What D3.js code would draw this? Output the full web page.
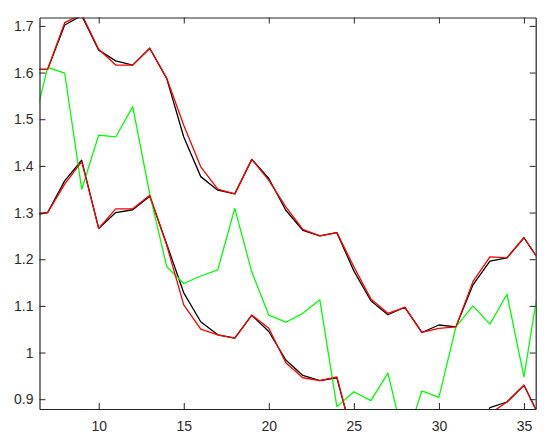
<!DOCTYPE html>
<html>
<head>
<meta charset="utf-8">
<script src="https://cdn.jsdelivr.net/npm/d3@7"></script>
<style>
  body { margin: 0; background: #fff; }
  .axis text { font-family: "Liberation Sans", Arial, sans-serif; font-size: 14px; fill: #2b2b2b; }
  .axis path, .axis line { stroke: #262626; }
</style>
</head>
<body>
<div id="chart"></div>
<script>
const margin = { top: 17.5, right: 14.3, bottom: 32, left: 39.5 };
const width = 550 - margin.left - margin.right;
const height = 441 - margin.top - margin.bottom;

// x positions of the samples
const xValues = [6, 7, 8, 9, 10, 11, 12, 13, 14, 15, 16, 17, 18, 19, 20,
    21, 22, 23, 24, 25, 26, 27, 28, 29, 30, 31, 32, 33, 34, 35, 36];

const upperBlack = [1.607, 1.607, 1.702, 1.722, 1.648, 1.625, 1.616, 1.652, 1.587, 1.462, 1.377,
    1.348, 1.340, 1.414, 1.373, 1.305, 1.262, 1.250, 1.257, 1.175, 1.111,
    1.081, 1.097, 1.043, 1.059, 1.055, 1.145, 1.196, 1.203, 1.246, 1.192];

const upperRed = [1.607, 1.607, 1.707, 1.725, 1.650, 1.616, 1.616, 1.652, 1.588, 1.487, 1.398,
    1.350, 1.340, 1.414, 1.369, 1.312, 1.264, 1.250, 1.257, 1.184, 1.115,
    1.084, 1.097, 1.043, 1.052, 1.055, 1.152, 1.205, 1.203, 1.246, 1.192];

const greenSeries = [1.463, 1.611, 1.599, 1.350, 1.466, 1.462, 1.527, 1.340, 1.184, 1.148, 1.164,
    1.177, 1.309, 1.173, 1.080, 1.065, 1.084, 1.113, 0.884, 0.916, 0.897,
    0.956, 0.805, 0.918, 0.904, 1.055, 1.100, 1.061, 1.125, 0.948, 1.174];

// values below 0.88 fall outside the visible window
const lowerBlack = [1.294, 1.300, 1.368, 1.412, 1.266, 1.300, 1.306, 1.335, 1.232, 1.128, 1.066,
    1.038, 1.031, 1.080, 1.045, 0.984, 0.951, 0.940, 0.946, 0.810, 0.790,
    0.780, 0.790, 0.770, 0.770, 0.780, 0.800, 0.882, 0.894, 0.930, 0.856];

const lowerRed = [1.294, 1.300, 1.361, 1.409, 1.266, 1.308, 1.308, 1.337, 1.230, 1.102, 1.050,
    1.038, 1.031, 1.080, 1.052, 0.978, 0.946, 0.940, 0.948, 0.810, 0.790,
    0.780, 0.790, 0.770, 0.770, 0.780, 0.800, 0.869, 0.894, 0.930, 0.856];

const xTicks = [10, 15, 20, 25, 30, 35];
const yTicks = [0.9, 1, 1.1, 1.2, 1.3, 1.4, 1.5, 1.6, 1.7];

const series = [
    { values: upperBlack, color: "#000000" },
    { values: lowerBlack, color: "#000000" },
    { values: greenSeries, color: "#00ff00" },
    { values: upperRed, color: "#ff0000" },
    { values: lowerRed, color: "#ff0000" }
];

const x = d3.scaleLinear()
    .domain([6.52, 35.69])
    .range([0, width]);

const y = d3.scaleLinear()
    .domain([0.879, 1.718])
    .range([height, 0]);

const svg = d3.select("#chart").append("svg")
    .attr("width", 550)
    .attr("height", 441);

const g = svg.append("g")
    .attr("transform", `translate(${margin.left},${margin.top})`);

g.append("clipPath")
    .attr("id", "plot-clip")
    .append("rect")
    .attr("width", width)
    .attr("height", height);

const line = d3.line()
    .x((d, i) => x(xValues[i]))
    .y(d => y(d));

// the lines
const lines = g.append("g").attr("clip-path", "url(#plot-clip)");
series.forEach(s => {
    lines.append("path")
        .datum(s.values)
        .attr("fill", "none")
        .attr("stroke", s.color)
        .attr("stroke-width", 1.3)
        .attr("stroke-linejoin", "round")
        .attr("d", line);
});

// box axes with inward ticks
g.append("g")
    .attr("class", "axis")
    .attr("transform", `translate(0,${height})`)
    .call(d3.axisBottom(x).tickValues(xTicks).tickSizeInner(-6).tickSizeOuter(0).tickPadding(12));

g.append("g")
    .attr("class", "axis")
    .call(d3.axisTop(x).tickValues(xTicks).tickSizeInner(-6).tickSizeOuter(0).tickFormat(""));

g.append("g")
    .attr("class", "axis")
    .call(d3.axisLeft(y).tickValues(yTicks).tickSizeInner(-6).tickSizeOuter(0).tickPadding(6).tickFormat(d3.format("~g")));

g.append("g")
    .attr("class", "axis")
    .attr("transform", `translate(${width},0)`)
    .call(d3.axisRight(y).tickValues(yTicks).tickSizeInner(-6).tickSizeOuter(0).tickFormat(""));

g.selectAll(".axis .domain").attr("stroke-width", 1.2);
</script>
</body>
</html>
